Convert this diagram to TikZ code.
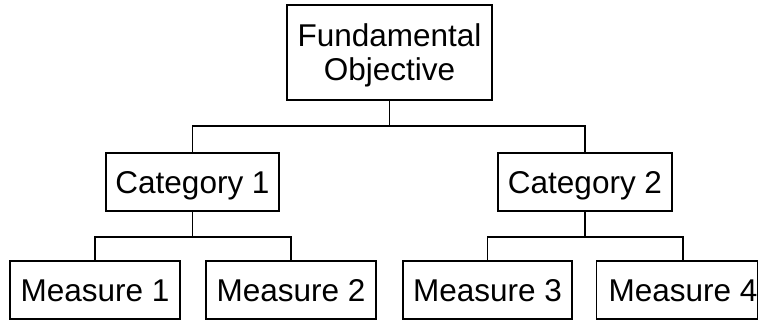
\documentclass[tikz,border=0pt]{standalone}
\usepackage{fontspec}
\setmainfont{Liberation Sans}
\begin{document}
\begin{tikzpicture}[x=1pt,y=-1pt,
  basebox/.style={draw=black, line width=1.8pt, rectangle, inner sep=0pt,
    font=\fontsize{31.5}{34}\selectfont, text depth=0pt},
  box/.style={basebox, text height=22.5pt},
  link/.style={draw=black, line width=1.8pt}]
  \useasboundingbox (0,0) rectangle (759,321);

  % top level
  \node[basebox, minimum width=205pt, minimum height=95pt, align=center] (fo) at (389.5,52.5)
    {Fundamental\\Objective};

  % categories
  \node[box, minimum width=173pt, minimum height=58pt] (c1) at (192.5,182) {Category 1};
  \node[box, minimum width=174pt, minimum height=58pt] (c2) at (585,182) {Category 2};

  % measures
  \node[box, minimum width=170pt, minimum height=58pt] (m1) at (95,290) {Measure 1};
  \node[box, minimum width=170pt, minimum height=58pt] (m2) at (291,290) {Measure 2};
  \node[box, minimum width=169pt, minimum height=58pt] (m3) at (487.5,290) {Measure 3};
  \node[box, minimum width=156pt, minimum height=58pt] (m4) at (677,290) {\hspace*{12pt}Measure 4};

  % connectors
  \coordinate (bar1) at (388,126);
  \draw[link] (fo.south) -- (fo.south |- bar1) -| (c1.north);
  \draw[link] (fo.south |- bar1) -| (c2.north);

  \coordinate (bar2) at (193,237);
  \draw[link] (c1.south) -- (c1.south |- bar2) -| (m1.north);
  \draw[link] (c1.south |- bar2) -| (m2.north);

  \coordinate (bar3) at (585,237);
  \coordinate (m4top) at ([xshift=6pt]m4.north);
  \draw[link] (c2.south) -- (c2.south |- bar3) -| (m3.north);
  \draw[link] (c2.south |- bar3) -| (m4top);
\end{tikzpicture}
\end{document}
